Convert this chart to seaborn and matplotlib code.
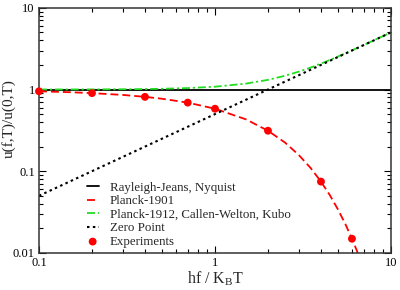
import matplotlib
matplotlib.use("Agg")
import matplotlib.pyplot as plt
import seaborn as sns
from matplotlib.ticker import LogLocator, NullFormatter, FixedLocator, FixedFormatter

# values (hf/kT vs normalised spectral density)
planck_x = [0.1, 0.15, 0.2, 0.3, 0.4, 0.5, 0.7, 1, 1.5, 2, 2.5, 3, 3.5, 4,
            4.5, 5, 5.5, 6, 6.5, 7]
planck1901_y = [0.951, 0.927, 0.903, 0.858, 0.813, 0.771, 0.691, 0.582, 0.431,
                0.313, 0.224, 0.157, 0.109, 0.0746, 0.0506, 0.0339, 0.0226,
                0.0149, 0.0098, 0.0064]
planck1912_x = [0.1, 0.15, 0.2, 0.3, 0.4, 0.5, 0.7, 1, 1.5, 2, 2.5, 3, 3.5, 4,
                4.5, 5, 5.5, 6, 6.5, 7, 8, 9, 10]
planck1912_y = [1.001, 1.002, 1.003, 1.008, 1.013, 1.021, 1.041, 1.082, 1.181,
                1.313, 1.474, 1.657, 1.859, 2.075, 2.301, 2.534, 2.773, 3.015,
                3.260, 3.506, 4.003, 4.501, 5.001]
rj_x = [0.1, 10]
rj_y = [1, 1]
zp_x = [0.1, 10]
zp_y = [0.05, 5]
exp_x = [0.1, 0.2, 0.4, 0.7, 1, 2, 4, 6]
exp_y = [0.951, 0.903, 0.813, 0.691, 0.582, 0.313, 0.0746, 0.0149]

sns.set_style("ticks")
plt.rcParams["font.family"] = ["Liberation Serif", "DejaVu Serif"]
plt.rcParams["mathtext.fontset"] = "custom"
plt.rcParams["mathtext.rm"] = "Liberation Serif"

fig = plt.figure(figsize=(4, 2.9), dpi=100)
ax = fig.add_axes([0.0975, 0.128, 0.88, 0.845])

sns.lineplot(x=rj_x, y=rj_y, ax=ax, color="black", lw=1.3,
             label="Rayleigh-Jeans, Nyquist")
sns.lineplot(x=planck_x, y=planck1901_y, ax=ax, color="#ff0000", lw=1.3,
             label="Planck-1901")
sns.lineplot(x=planck1912_x, y=planck1912_y, ax=ax, color="#22dd22", lw=1.3,
             label="Planck-1912, Callen-Welton, Kubo")
sns.lineplot(x=zp_x, y=zp_y, ax=ax, color="black", lw=1.5,
             label="Zero Point")
sns.scatterplot(x=exp_x, y=exp_y, ax=ax, color="#ff0000", s=32,
                edgecolor="none", label="Experiments", zorder=5, clip_on=False)

lines = ax.get_lines()
lines[1].set_dashes([4.4, 2.2])
lines[2].set_dashes([4.4, 1.6, 1.2, 1.6])
lines[3].set_dashes([1.2, 1.6])

ax.set_xscale("log")
ax.set_yscale("log")
ax.set_xlim(0.1, 10)
ax.set_ylim(0.01, 10)

ax.xaxis.set_major_locator(FixedLocator([0.1, 1, 10]))
ax.xaxis.set_major_formatter(FixedFormatter(["0.1", "1", "10"]))
ax.yaxis.set_major_locator(FixedLocator([0.01, 0.1, 1, 10]))
ax.yaxis.set_major_formatter(FixedFormatter(["0.01", "0.1", "1", "10"]))
ax.xaxis.set_minor_locator(LogLocator(base=10, subs=range(2, 10)))
ax.yaxis.set_minor_locator(LogLocator(base=10, subs=range(2, 10)))
ax.xaxis.set_minor_formatter(NullFormatter())
ax.yaxis.set_minor_formatter(NullFormatter())
ax.tick_params(which="both", direction="in", top=True, right=True,
               labelsize=9, width=0.8, colors="black")
ax.tick_params(which="major", length=5, pad=3)
ax.tick_params(which="minor", length=3)
for s in ax.spines.values():
    s.set_linewidth(1.1)
    s.set_color("#333333")

ax.set_xlabel("hf / K$_\\mathrm{B}$T", fontsize=11.5)
ax.set_ylabel("u(f,T)/u(0,T)", fontsize=11)
ax.xaxis.set_label_coords(0.5, -0.068)
ax.yaxis.set_label_coords(-0.066, 0.547)

ax.legend(loc="lower left", bbox_to_anchor=(0.135, 0.02), frameon=False,
          fontsize=9.3, handlelength=0.95, labelspacing=0.12,
          handletextpad=0.85, borderpad=0, borderaxespad=0)

fig.savefig("out.png", dpi=100)
